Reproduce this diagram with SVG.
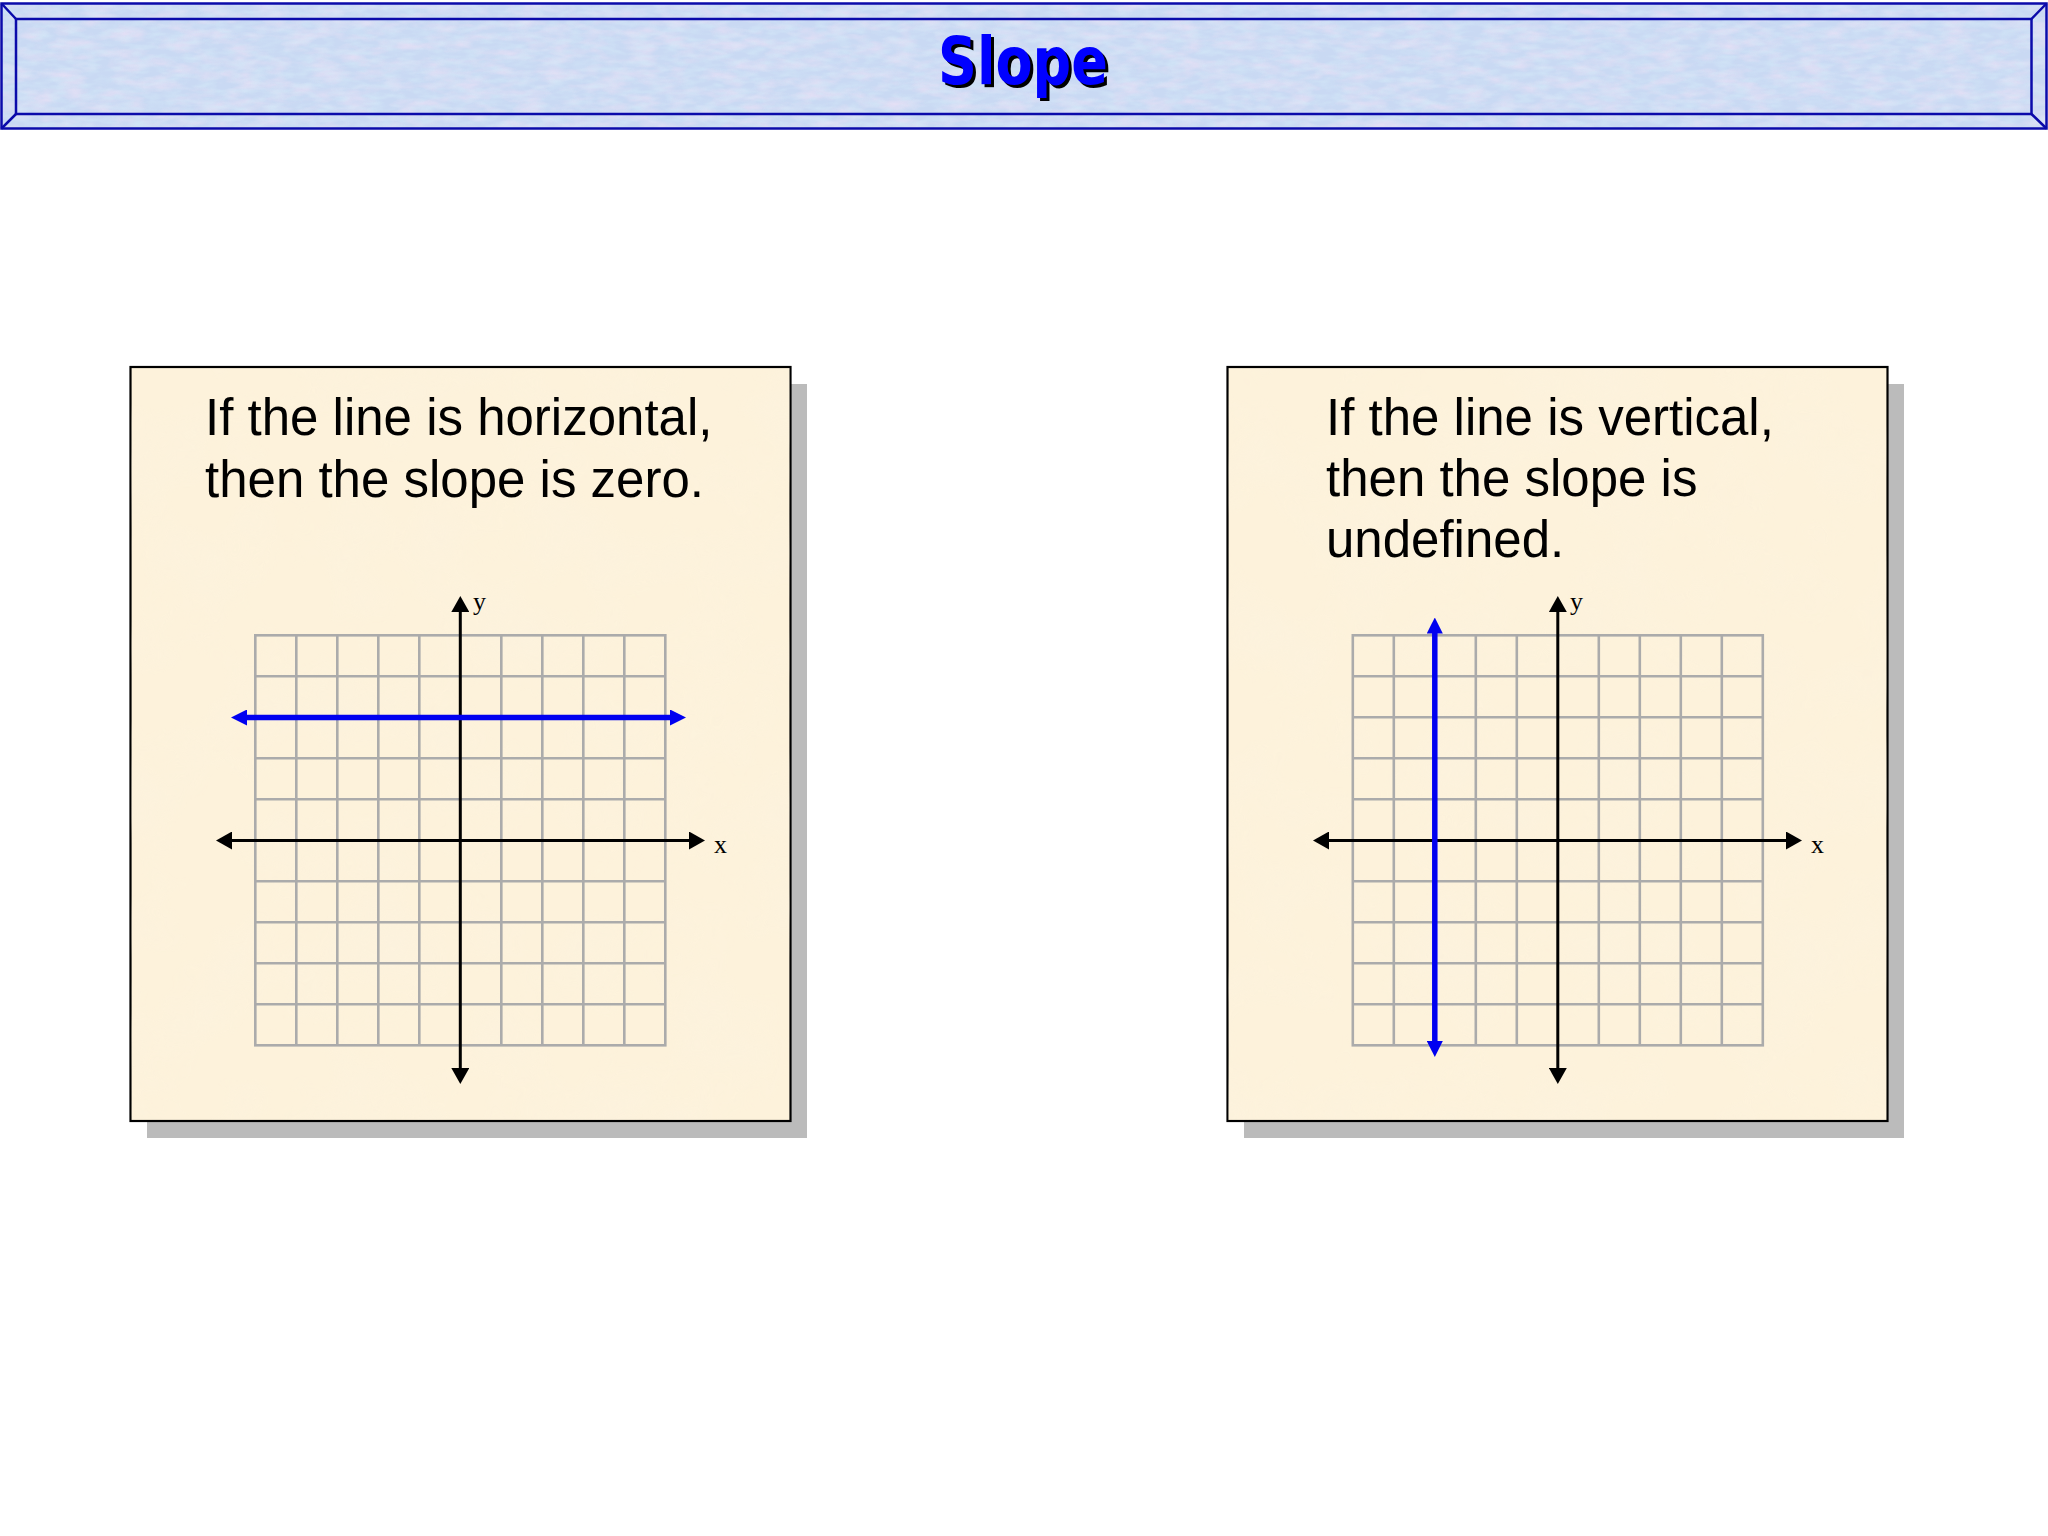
<svg xmlns="http://www.w3.org/2000/svg" width="2048" height="1536" viewBox="0 0 2048 1536">
  <style>
    .frame { fill: none; stroke: #0B0BAA; stroke-width: 2.5; }
    .panel { fill: #FDF2DB; stroke: #000; stroke-width: 2.2; }
    .shadow { fill: #BBBBBB; }
    .grid { stroke: #ABABAB; stroke-width: 2.6; fill: none; }
    .axis { stroke: #000; stroke-width: 3; fill: none; }
    .bline { stroke: #0000F0; stroke-width: 5.5; fill: none; }
    .body { font-family: "Liberation Sans", Arial, sans-serif; font-size: 51px; fill: #000; }
    .lbl { font-family: "Liberation Serif", "Times New Roman", serif; font-size: 26px; fill: #000; }
    .title { font-family: "Comic Sans MS", "DejaVu Sans", sans-serif; font-weight: bold; font-size: 66px; }
  </style>
  <defs>
    <marker id="ah" markerUnits="userSpaceOnUse" markerWidth="16" markerHeight="18" refX="6" refY="9" orient="auto-start-reverse" viewBox="0 0 16 18">
      <path d="M0,0 L16,9 L0,18 z" fill="#000"/>
    </marker>
    <marker id="bh" markerUnits="userSpaceOnUse" markerWidth="16" markerHeight="16" refX="6" refY="8" orient="auto-start-reverse" viewBox="0 0 16 16">
      <path d="M0,0 L16,8 L0,16 z" fill="#0000F0"/>
    </marker>
    <filter id="btex" x="0" y="0" width="100%" height="100%">
      <feTurbulence type="fractalNoise" baseFrequency="0.035 0.1" numOctaves="3" seed="4" result="n"/>
      <feColorMatrix in="n" type="matrix" values="0 0 0 0 0.84  0 0 0 0 0.76  0 0 0 0 0.92  1.8 0 0 0 -0.7"/>
    </filter>
    <filter id="btex2" x="0" y="0" width="100%" height="100%">
      <feTurbulence type="fractalNoise" baseFrequency="0.06 0.18" numOctaves="2" seed="9" result="n"/>
      <feColorMatrix in="n" type="matrix" values="0 0 0 0 0.66  0 0 0 0 0.82  0 0 0 0 0.94  0 1.8 0 0 -0.7"/>
    </filter>
    <filter id="ptex" x="0" y="0" width="100%" height="100%">
      <feTurbulence type="fractalNoise" baseFrequency="0.012" numOctaves="3" seed="2" result="n"/>
      <feColorMatrix in="n" type="matrix" values="0 0 0 0 0.96  0 0 0 0 0.89  0 0 0 0 0.76  1.2 0 0 0 -0.5"/>
    </filter>
  </defs>

  <rect width="2048" height="1536" fill="#FFFFFF"/>

  <g id="banner">
    <rect x="1" y="3" width="2046" height="126" fill="#C9D9F3"/>
    <rect x="1" y="3" width="2046" height="126" filter="url(#btex)" opacity="0.8"/>
    <rect x="1" y="3" width="2046" height="126" filter="url(#btex2)" opacity="0.7"/>
    <rect class="frame" x="1.5" y="3.5" width="2045" height="125"/>
    <rect class="frame" x="16" y="19" width="2015.5" height="95"/>
    <path class="frame" d="M1.5,3.5 L16,19 M2046.5,3.5 L2031.5,19 M1.5,128.5 L16,114 M2046.5,128.5 L2031.5,114"/>
    <text class="title" x="1026" y="87" text-anchor="middle" textLength="170" lengthAdjust="spacingAndGlyphs" fill="#000">Slope</text>
    <text class="title" x="1023" y="84" text-anchor="middle" textLength="170" lengthAdjust="spacingAndGlyphs" fill="#0000FF">Slope</text>
  </g>

  <g id="panel-horizontal">
    <rect class="shadow" x="147" y="384" width="660" height="754"/>
    <rect class="panel" x="130.5" y="367" width="660" height="754"/>
    <rect x="131.5" y="368" width="658" height="752" filter="url(#ptex)" opacity="0.6"/>
    <text class="body" x="205" y="435">If the line is horizontal,</text>
    <text class="body" x="205" y="497">then the slope is zero.</text>
    <g class="grid">
      <rect x="255.3" y="635.3" width="410" height="410"/>
      <path d="M296.3,635.3V1045.3 M337.3,635.3V1045.3 M378.3,635.3V1045.3 M419.3,635.3V1045.3 M501.3,635.3V1045.3 M542.3,635.3V1045.3 M583.3,635.3V1045.3 M624.3,635.3V1045.3 M255.3,676.3H665.3 M255.3,717.3H665.3 M255.3,758.3H665.3 M255.3,799.3H665.3 M255.3,881.3H665.3 M255.3,922.3H665.3 M255.3,963.3H665.3 M255.3,1004.3H665.3"/>
    </g>
    <text class="lbl" x="473" y="610">y</text>
    <text class="lbl" x="714" y="853">x</text>
  </g>

  <g id="panel-vertical">
    <rect class="shadow" x="1244" y="384" width="660" height="754"/>
    <rect class="panel" x="1227.5" y="367" width="660" height="754"/>
    <rect x="1228.5" y="368" width="658" height="752" filter="url(#ptex)" opacity="0.6"/>
    <text class="body" x="1326" y="435">If the line is vertical,</text>
    <text class="body" x="1326" y="496">then the slope is</text>
    <text class="body" x="1326" y="557">undefined.</text>
    <g class="grid">
      <rect x="1352.8" y="635.3" width="410" height="410"/>
      <path d="M1393.8,635.3V1045.3 M1434.8,635.3V1045.3 M1475.8,635.3V1045.3 M1516.8,635.3V1045.3 M1598.8,635.3V1045.3 M1639.8,635.3V1045.3 M1680.8,635.3V1045.3 M1721.8,635.3V1045.3 M1352.8,676.3H1762.8 M1352.8,717.3H1762.8 M1352.8,758.3H1762.8 M1352.8,799.3H1762.8 M1352.8,881.3H1762.8 M1352.8,922.3H1762.8 M1352.8,963.3H1762.8 M1352.8,1004.3H1762.8"/>
    </g>
    <text class="lbl" x="1570" y="610">y</text>
    <text class="lbl" x="1811" y="853">x</text>
  </g>

  <g id="connectors">
    <line class="axis" x1="460.3" y1="606" x2="460.3" y2="1074" marker-start="url(#ah)" marker-end="url(#ah)"/>
    <line class="axis" x1="226" y1="840.5" x2="695" y2="840.5" marker-start="url(#ah)" marker-end="url(#ah)"/>
    <line class="bline" x1="241" y1="717.5" x2="676" y2="717.5" marker-start="url(#bh)" marker-end="url(#bh)"/>
    <line class="axis" x1="1557.8" y1="606" x2="1557.8" y2="1074" marker-start="url(#ah)" marker-end="url(#ah)"/>
    <line class="axis" x1="1323" y1="840.5" x2="1792" y2="840.5" marker-start="url(#ah)" marker-end="url(#ah)"/>
    <line class="bline" x1="1434.8" y1="627.5" x2="1434.8" y2="1047" marker-start="url(#bh)" marker-end="url(#bh)"/>
  </g>
</svg>
